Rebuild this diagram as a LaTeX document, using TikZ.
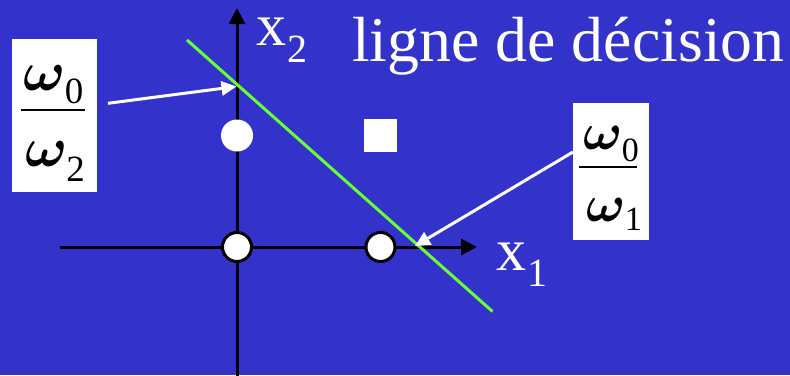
\documentclass[tikz,border=0pt]{standalone}
\usepackage{graphicx}
\usepackage{fontspec}
\setmainfont{Liberation Serif}
\usetikzlibrary{arrows.meta}
\definecolor{bgblue}{RGB}{51,51,204}
\definecolor{decgreen}{RGB}{102,255,51}
% #1 subscript, #2 drop, #3 subscript size, #4 omega scale
\newcommand{\omsub}[4]{\scalebox{#4}{\fontsize{10}{12}\selectfont\boldmath$\omega$}\kern-1pt\raisebox{-#2pt}{\fontsize{#3}{#3}\selectfont #1}}
\begin{document}
\begin{tikzpicture}[x=1pt,y=-1pt,
  axis/.style={line width=3pt,black,-{Triangle[length=16pt,width=16pt]}},
  pointer/.style={line width=3pt,white,-{Triangle[length=15pt,width=14pt]}},
  decline/.style={line width=3pt,decgreen},
  ringpt/.style={circle,draw=black,line width=3pt,fill=white,minimum size=29pt,inner sep=0pt},
  dotpt/.style={circle,fill=white,minimum size=32pt,inner sep=0pt},
  sqpt/.style={rectangle,fill=white,minimum size=33pt,inner sep=0pt},
  fracbox/.style={rectangle,fill=white,inner sep=0pt},
  wtxt/.style={anchor=base west,inner sep=0pt,text=white},
  btxt/.style={anchor=base west,inner sep=0pt,text=black},
]
\useasboundingbox (0,0) rectangle (790,375);
\fill[bgblue] (0,0) rectangle (790,375);
% axes
\coordinate (vbot) at (237,376);
\coordinate (vtop) at (237,8);
\coordinate (hleft) at (60,247);
\coordinate (hright) at (477,247);
\draw[axis] (vbot) -- (vtop);
\draw[axis] (hleft) -- (hright);
% decision line
\coordinate (g1) at (187,40);
\coordinate (g2) at (492.5,311.5);
\draw[decline] (g1) -- (g2);
% points
\node[ringpt] (c0) at (237,247) {};
\node[ringpt] (c1) at (380.5,247) {};
\node[dotpt] (d0) at (237,135.5) {};
\node[sqpt] (s0) at (380.5,135.3) {};
% labels
\node[wtxt,font=\fontsize{63.8}{70}\selectfont] (title) at (352,61.7) {ligne de décision};
\node[wtxt,font=\fontsize{60}{66}\selectfont] (x2) at (256,45.7) {x};
\node[wtxt,font=\fontsize{40}{44}\selectfont] (x2s) at (287.4,62.5) {2};
\node[wtxt,font=\fontsize{60}{66}\selectfont] (x1) at (496,270) {x};
\node[wtxt,font=\fontsize{40}{44}\selectfont] (x1s) at (527.3,286) {1};
% fraction boxes
\node[fracbox,minimum width=85pt,minimum height=153pt] (box1) at (54.5,115.5) {};
\node[fracbox,minimum width=76pt,minimum height=137pt] (box2) at (611,171.5) {};
\node[btxt] (fr1n) at (23.5,90) {\omsub{0}{13}{37}{5.6}};
\coordinate (bar1l) at (21,110.3);
\coordinate (bar1r) at (85,110.3);
\draw[line width=2pt,black] (bar1l) -- (bar1r);
\node[btxt] (fr1d) at (25,166.5) {\omsub{2}{15}{37}{5.6}};
\node[btxt] (fr2n) at (583.5,149) {\omsub{0}{12}{34}{5.2}};
\coordinate (bar2l) at (579,167.2);
\coordinate (bar2r) at (637,167.2);
\draw[line width=2pt,black] (bar2l) -- (bar2r);
\node[btxt] (fr2d) at (586.5,221) {\omsub{1}{9}{34}{5.2}};
% pointers
\coordinate (a1s) at (108,103.3);
\coordinate (a1e) at (236.5,86.5);
\coordinate (a2s) at (573,152);
\coordinate (a2e) at (415,246);
\draw[pointer] (a1s) -- (a1e);
\draw[pointer] (a2s) -- (a2e);
\end{tikzpicture}
\end{document}
